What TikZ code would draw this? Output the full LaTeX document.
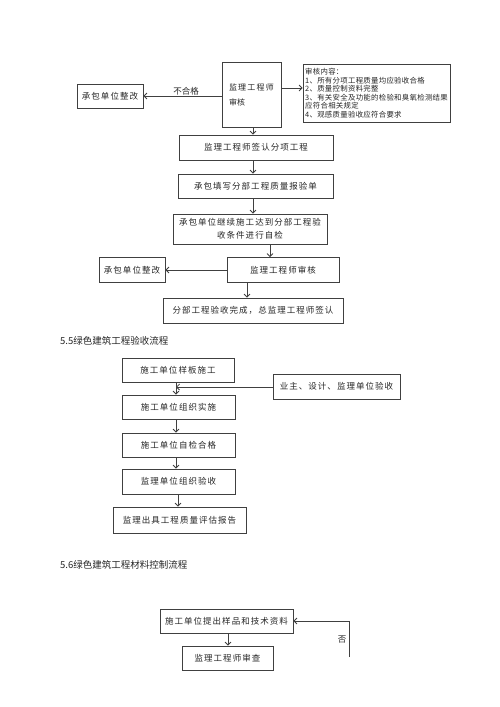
\documentclass[tikz,border=0pt]{standalone}
\usepackage{fontspec}
\setmainfont{Noto Sans CJK SC}
\newfontfamily\boxfont{Noto Sans CJK SC}[LetterSpace=12]
\newfontfamily\smallfont{Noto Sans CJK SC}[LetterSpace=4]
\usetikzlibrary{arrows.meta}
\begin{document}
\begin{tikzpicture}[x=1pt,y=-1pt,
  box/.style={draw=black!75, line width=0.8pt, inner sep=0pt, align=center,
    font=\boxfont\fontsize{8.5}{10}\selectfont, text=black!85},
  arr/.style={draw=black!75, line width=0.8pt, -{Straight Barb[length=3pt,width=6pt]}},
  lbl/.style={font=\fontsize{8.5}{10}\selectfont, text=black!85, inner sep=0pt},
  head/.style={font=\fontsize{9.5}{11}\selectfont, text=black!85, anchor=west, inner sep=0pt}]
\useasboundingbox[fill=white] (0,0) rectangle (500,707);

% helper columns / points
\coordinate (c253) at (253,0);
\coordinate (c270) at (270,0);
\coordinate (c247) at (247,0);
\coordinate (c176) at (176,0);
\coordinate (c178) at (178,0);
\coordinate (c228) at (228,0);
\coordinate (ra) at (281,88);
\coordinate (m) at (176,387);
\coordinate (f) at (349,657);

% ---------- section 1 ----------
\node[box, minimum width=59, minimum height=65, align=left,
  font=\fontsize{8}{10}\selectfont] (t1) at (251.5,94.5)
  {监\hspace{1.2pt}理\hspace{1.2pt}工\hspace{1.2pt}程\hspace{1.2pt}师\\[5pt]审核\hspace{29pt}\mbox{}};
\node[box, minimum width=66, minimum height=24] (rz1) at (110,96) {承包单位整改};
\node[box, minimum width=147, minimum height=58, align=left,
  font=\smallfont\fontsize{7.4}{8.5}\selectfont] (rev) at (376.5,93)
  {审核内容：\\1、所有分项工程质量均应验收合格\\2、质量控制资料完整\\3、有关安全及功能的检验和臭氧检测结果\\应符合相关规定\\4、观感质量验收应符合要求};
\node[box, minimum width=154, minimum height=25] (s1) at (256,147.5) {监理工程师签认分项工程};
\node[box, minimum width=155, minimum height=24] (s2) at (255.5,186) {承包填写分部工程质量报验单};
\node[box, minimum width=154, minimum height=30] (s3) at (250,229)
  {承包单位继续施工达到分部工程验\\[3pt]收条件进行自检};
\node[box, minimum width=112, minimum height=25] (s4) at (283,270) {监理工程师审核};
\node[box, minimum width=66, minimum height=25] (rz2) at (132,270) {承包单位整改};
\node[box, minimum width=180, minimum height=25] (s5) at (253,310.5) {分部工程验收完成，总监理工程师签认};

\draw[arr] (t1.west |- rz1.east) -- (rz1.east);
\node[lbl] (bhg) at (186,91) {不合格};
\draw[arr] (ra) -- (ra -| rev.west);
\draw[arr] (t1.south -| c253) -- (s1.north -| c253);
\draw[arr] (s1.south -| c253) -- (s2.north -| c253);
\draw[arr] (s2.south -| c253) -- (s3.north -| c253);
\draw[arr] (s3.south -| c270) -- (s4.north -| c270);
\draw[arr] (s4.west) -- (rz2.east);
\draw[arr] (s4.south -| c247) -- (s5.north -| c247);

% ---------- section 2 ----------
\node[head] (h1) at (60,341) {5.5绿色建筑工程验收流程};
\node[box, minimum width=112, minimum height=24] (a1) at (178,370) {施工单位样板施工};
\node[box, minimum width=127, minimum height=25] (yz) at (336.5,386.5) {业主、设计、监理单位验收};
\node[box, minimum width=113, minimum height=24] (a2) at (178.5,407) {施工单位组织实施};
\node[box, minimum width=113, minimum height=24] (a3) at (178.5,445) {施工单位自检合格};
\node[box, minimum width=113, minimum height=25] (a4) at (178.5,481.5) {监理单位组织验收};
\node[box, minimum width=133, minimum height=26] (a5) at (179.5,520) {监理出具工程质量评估报告};

\draw[arr] (a1.south -| c176) -- (a2.north -| c176);
\draw[arr] (yz.west |- m) -- (m);
\draw[arr] (a2.south -| c176) -- (a3.north -| c176);
\draw[arr] (a3.south -| c176) -- (a4.north -| c176);
\draw[arr] (a4.south -| c178) -- (a5.north -| c178);

% ---------- section 3 ----------
\node[head] (h2) at (60,565) {5.6绿色建筑工程材料控制流程};
\node[box, minimum width=133, minimum height=24] (b1) at (226.5,621) {施工单位提出样品和技术资料};
\node[box, minimum width=91, minimum height=24] (b2) at (227.5,658) {监理工程师审查};
\draw[arr] (b1.south -| c228) -- (b2.north -| c228);
\draw[arr] (f) |- (b1.east);
\node[lbl] (fou) at (342,640) {否};
\end{tikzpicture}
\end{document}
